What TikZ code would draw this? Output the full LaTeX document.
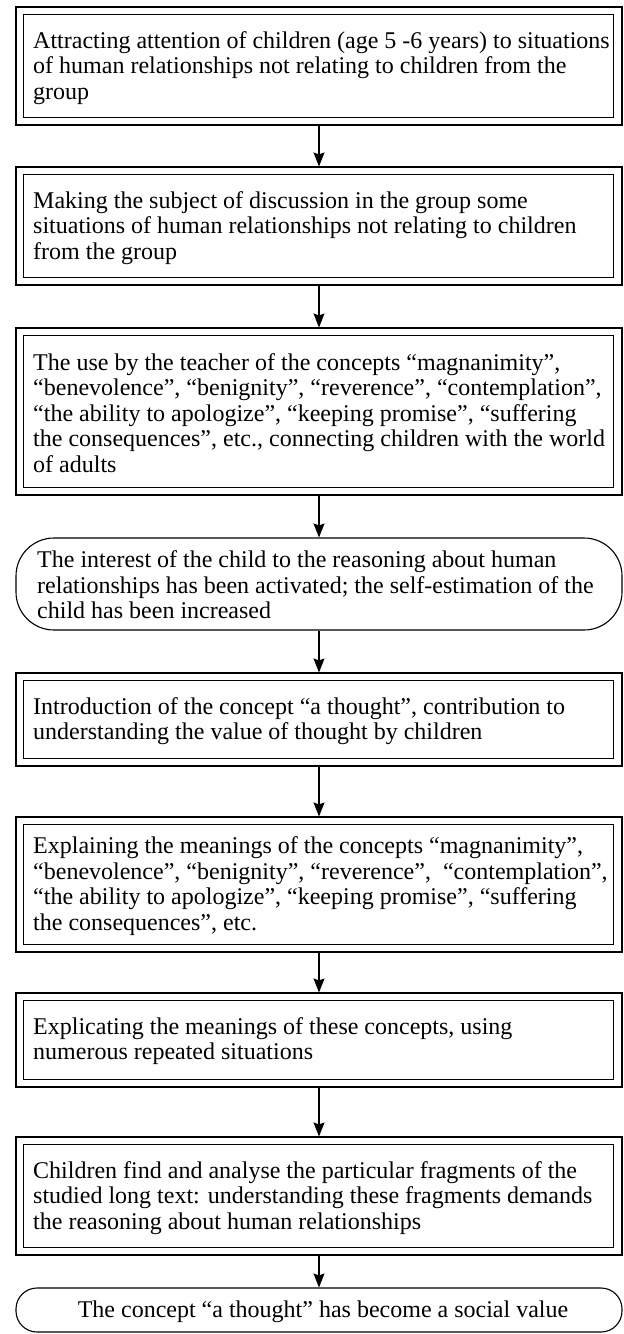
\documentclass[tikz,border=0pt]{standalone}
\usepackage{fontspec}
\setmainfont{Liberation Serif}
\usetikzlibrary{arrows.meta}
\begin{document}
\begin{tikzpicture}[x=1pt,y=1pt,
  outerbox/.style={draw=black, line width=1.1pt, minimum width=606pt, inner sep=0pt},
  roundbox/.style={draw=black, line width=1.1pt, minimum width=606pt, inner sep=0pt, rounded corners=38pt},
  innerline/.style={draw=black, line width=1.1pt},
  txt/.style={anchor=west, align=left, inner sep=0pt, font=\fontsize{24}{25.5}\selectfont},
  ctxt/.style={anchor=center, align=center, inner sep=0pt, font=\fontsize{24}{25.5}\selectfont},
  flow/.style={line width=1.1pt, -{Stealth[length=14pt,width=11pt,inset=2pt]}}]
\useasboundingbox (0,0) rectangle (624,-1334);
% boxes (outer)
\node[outerbox, minimum height=118pt] (b1) at (319,-66) {};
\node[outerbox, minimum height=118pt] (b2) at (319,-226) {};
\node[outerbox, minimum height=167pt] (b3) at (319,-411.5) {};
\node[roundbox, minimum height=92pt] (b4) at (319,-584) {};
\node[outerbox, minimum height=93pt] (b5) at (319,-719.5) {};
\node[outerbox, minimum height=135pt] (b6) at (319,-884.5) {};
\node[outerbox, minimum height=94pt] (b7) at (319,-1040) {};
\node[outerbox, minimum height=118pt] (b8) at (319,-1196) {};
\node[roundbox, rounded corners=21pt, minimum height=44pt] (b9) at (319,-1310) {};
% inner lines
\foreach \b in {b1,b2,b3,b5,b6,b7,b8}{
  \draw[innerline] ([shift={(8pt,-8pt)}]\b.north west) rectangle ([shift={(-9pt,8pt)}]\b.south east);
}
% texts
\node[txt] (t1) at (33,-68) {Attracting attention of children (age 5 -6 years) to situations\\of human relationships not relating to children from the\\group};
\node[txt] (t2) at (33,-228) {Making the subject of discussion in the group some\\situations of human relationships not relating to children\\from the group};
\node[txt] (t3) at (33,-413) {The use by the teacher of the concepts “magnanimity”,\\“benevolence”, “benignity”, “reverence”, “contemplation”,\\“the ability to apologize”, “keeping promise”, “suffering\\the consequences”, etc., connecting children with the world\\of adults};
\node[txt] (t4) at (37,-585) {The interest of the child to the reasoning about human\\relationships has been activated; the self-estimation of the\\child has been increased};
\node[txt] (t5) at (33,-721) {Introduction of the concept “a thought”, contribution to\\understanding the value of thought by children};
\node[txt] (t6) at (33,-886) {Explaining the meanings of the concepts “magnanimity”,\\“benevolence”, “benignity”, “reverence”,\ \ “contemplation”,\\“the ability to apologize”, “keeping promise”, “suffering\\the consequences”, etc.};
\node[txt] (t7) at (33,-1041) {Explicating the meanings of these concepts, using\\numerous repeated situations};
\node[txt] (t8) at (33,-1198) {Children find and analyse the particular fragments of the\\studied long text: understanding these fragments demands\\the reasoning about human relationships};
\node[ctxt] (t9) at (323,-1312) {The concept “a thought” has become a social value};
% arrows
\draw[flow] (b1.south) -- (b2.north);
\draw[flow] (b2.south) -- (b3.north);
\draw[flow] (b3.south) -- (b4.north);
\draw[flow] (b4.south) -- (b5.north);
\draw[flow] (b5.south) -- (b6.north);
\draw[flow] (b6.south) -- (b7.north);
\draw[flow] (b7.south) -- (b8.north);
\draw[flow] (b8.south) -- (b9.north);
\end{tikzpicture}
\end{document}
